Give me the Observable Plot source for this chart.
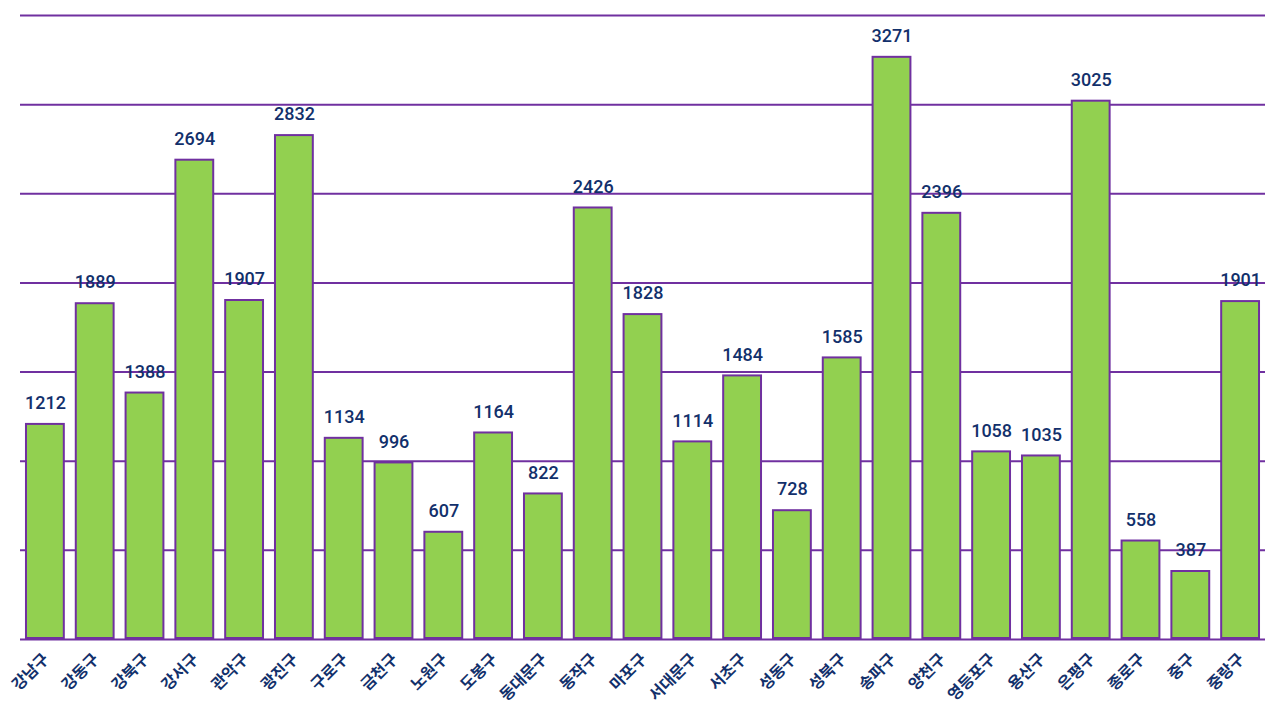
<!DOCTYPE html>
<html><head><meta charset="utf-8">
<script src="https://cdn.jsdelivr.net/npm/d3@7"></script>
<script src="https://cdn.jsdelivr.net/npm/@observablehq/plot@0.6"></script>
<style>body{margin:0;background:#fff;} #chart{width:1280px;height:720px;}</style>
</head><body><div id="chart"></div>
<script>
const districts = ["강남구","강동구","강북구","강서구","관악구","광진구","구로구","금천구","노원구","도봉구","동대문구","동작구","마포구","서대문구","서초구","성동구","성북구","송파구","양천구","영등포구","용산구","은평구","종로구","중구","중랑구"];
const counts = [1212,1889,1388,2694,1907,2832,1134,996,607,1164,822,2426,1828,1114,1484,728,1585,3271,2396,1058,1035,3025,558,387,1901];
const gridTicks = [0,500,1000,1500,2000,2500,3000,3500];
const data = districts.map((d,i)=>({district:d, count:counts[i]}));
const navy = "#12306b";
const purple = "#7030a0";
const chart = Plot.plot({
  width:1280, height:720,
  marginTop:15, marginBottom:81, marginLeft:20, marginRight:15,
  style:{background:"#fff"},
  x:{domain:districts, paddingInner:0.2, paddingOuter:0.1, round:false, axis:null, label:null},
  y:{domain:[0,3500], axis:null},
  marks:[
    Plot.ruleY(gridTicks,{stroke:purple, strokeWidth:2}),
    Plot.barY(data,{x:"district", y:"count", fill:"#92d050", stroke:purple, strokeWidth:2, inset:1}),
    Plot.text(data,{x:"district", y:"count", text:d=>String(d.count), dy:-20, fill:navy, fontSize:18, fontWeight:500, fontFamily:"Roboto"}),
    Plot.axisX({tickSize:0, tickRotate:-45, tickPadding:17, label:null, fill:navy, fontSize:16, fontWeight:"bold", fontFamily:"Noto Sans CJK KR", textAnchor:"end", dx:1})
  ]
});
document.getElementById("chart").appendChild(chart);
</script></body></html>
